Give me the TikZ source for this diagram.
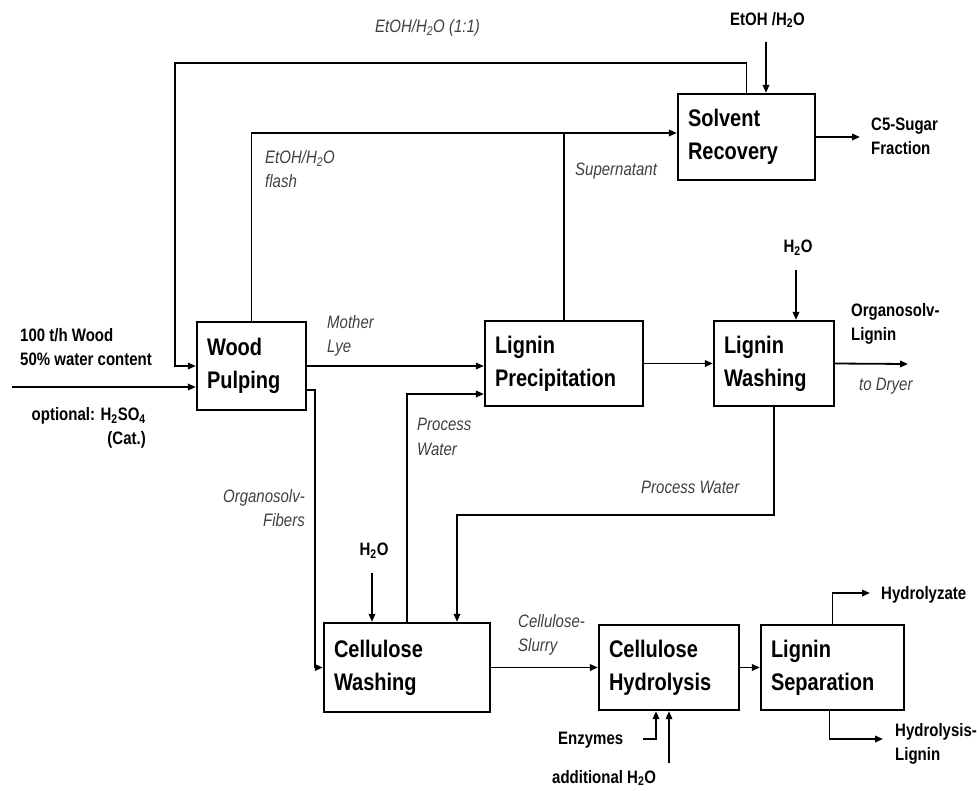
\documentclass[tikz,border=0pt]{standalone}
\usepackage{fontspec}
\setmainfont{Liberation Sans}
\usepackage{graphicx}
\usetikzlibrary{arrows.meta}
\newcommand{\vs}[1]{\scalebox{1}[1.2]{#1}}
\begin{document}
\begin{tikzpicture}[x=1pt,y=-1pt,
  box/.style={draw, line width=2.3pt, rectangle, inner xsep=10pt, inner ysep=0pt, align=left,
    font=\fontsize{20}{33}\selectfont\bfseries},
  arr/.style={line width=1.8pt, -{Triangle[length=8pt,width=6.5pt]}},
  ln/.style={line width=1.8pt},
  lab/.style={inner sep=0pt, anchor=west, align=left, font=\fontsize{15}{24.5}\selectfont\itshape, text=black!75},
  blab/.style={inner sep=0pt, anchor=west, align=left, font=\fontsize{15}{24}\selectfont\bfseries}
]
\useasboundingbox (0,0) rectangle (977,790);
% boxes
\node[box, minimum width=109pt, text width=89pt, minimum height=88pt] (wp) at (251.5,366) {\vs{Wood}\\\vs{Pulping}};
\node[box, minimum width=137pt, text width=117pt, minimum height=86pt] (sr) at (746.5,137) {\vs{Solvent}\\\vs{Recovery}};
\node[box, minimum width=158pt, text width=138pt, minimum height=85pt] (lp) at (564,363.5) {\vs{Lignin}\\\vs{Precipitation}};
\node[box, minimum width=120pt, text width=100pt, minimum height=85pt] (lw) at (774,363.5) {\vs{Lignin}\\\vs{Washing}};
\node[box, minimum width=166pt, text width=146pt, minimum height=89pt] (cw) at (407,667.5) {\vs{Cellulose}\\\vs{Washing}};
\node[box, minimum width=140pt, text width=120pt, minimum height=85pt] (ch) at (669,667.5) {\vs{Cellulose}\\\vs{Hydrolysis}};
\node[box, minimum width=143pt, text width=123pt, minimum height=85pt] (ls) at (832.5,667.5) {\vs{Lignin}\\\vs{Separation}};
% coordinates
\coordinate (tl) at (175,63);
\coordinate (fl) at (252,133);
\coordinate (eIn) at (766,42);
\coordinate (c5) at (860,137);
\coordinate (wIn) at (12,387);
\coordinate (fb) at (315,390);
\coordinate (pw1) at (408,394);
\coordinate (hcw) at (372,573);
\coordinate (pw2) at (457,515);
\coordinate (hlw) at (796,270);
\coordinate (ol) at (908,364);
\coordinate (hy) at (870,593);
\coordinate (hl) at (883,739);
\coordinate (en) at (643,739);
\coordinate (ah) at (669,763);
% connectors
\draw[arr] (sr.north) |- (tl) |- (wp.west);
\draw[arr] (wp.north) |- ([yshift=4pt]sr.west);
\draw[ln] (lp.north) -- (lp.north |- fl);
\draw[arr] (eIn) -- (eIn |- sr.north);
\draw[arr] (sr.east) -- (c5);
\draw[arr] (wIn) -- (wIn -| wp.west);
\draw[arr] (wp.east) -- (wp.east -| lp.west);
\draw[arr] (fb -| wp.east) -- (fb) |- (cw.west);
\draw[arr] (cw.north) |- (lp.west |- pw1);
\draw[arr] (hcw) -- (hcw |- cw.north);
\draw[arr] (lw.south) |- (pw2) -- (pw2 |- cw.north);
\draw[arr] (lp.east) -- (lw.west);
\draw[arr] (hlw) -- (hlw |- lw.north);
\draw[arr] (lw.east) -- (ol);
\draw[arr] (cw.east) -- (ch.west);
\draw[arr] (ch.east) -- (ls.west);
\draw[arr] (ls.north) |- (hy);
\draw[arr] ([xshift=-3pt]ls.south) |- (hl);
\draw[arr] (en) -| ([xshift=-13pt]ch.south);
\draw[arr] (ah) -- (ch.south);
% labels
\node[lab] (l1) at (375,28) {\vs{EtOH/H\textsubscript{2}O (1:1)}};
\node[lab] (l2) at (265,169) {\vs{EtOH/H\textsubscript{2}O}\\\vs{flash}};
\node[lab] (l3) at (575,171) {\vs{Supernatant}};
\node[blab] (l4) at (730,20) {\vs{EtOH /H\textsubscript{2}O}};
\node[blab] (l5) at (871,136) {\vs{C5-Sugar}\\\vs{Fraction}};
\node[lab] (l6) at (327,336) {\vs{Mother}\\\vs{Lye}};
\node[blab] (l7) at (20,347) {\vs{100 t/h Wood}\\\vs{50\% water content}};
\node[blab, anchor=east, align=right] (l8) at (146,428) {\vs{optional: H\textsubscript{2}SO\textsubscript{4}}\\\vs{(Cat.)}};
\node[lab] (l9) at (417,437) {\vs{Process}\\\vs{Water}};
\node[lab, anchor=east, align=right] (l10) at (305,508) {\vs{Organosolv-}\\\vs{Fibers}};
\node[blab, anchor=center] (l11) at (798,248) {\vs{H\textsubscript{2}O}};
\node[blab] (l12) at (851,324) {\vs{Organosolv-}\\\vs{Lignin}};
\node[lab] (l13) at (859,386) {\vs{to Dryer}};
\node[lab] (l14) at (641,487) {\vs{Process Water}};
\node[blab, anchor=center] (l15) at (374,551) {\vs{H\textsubscript{2}O}};
\node[lab] (l16) at (518,635) {\vs{Cellulose-}\\\vs{Slurry}};
\node[blab] (l17) at (558,740) {\vs{Enzymes}};
\node[blab] (l18) at (552,778) {\vs{additional H\textsubscript{2}O}};
\node[blab] (l19) at (881,595) {\vs{Hydrolyzate}};
\node[blab] (l20) at (895,744) {\vs{Hydrolysis-}\\\vs{Lignin}};
\end{tikzpicture}
\end{document}
